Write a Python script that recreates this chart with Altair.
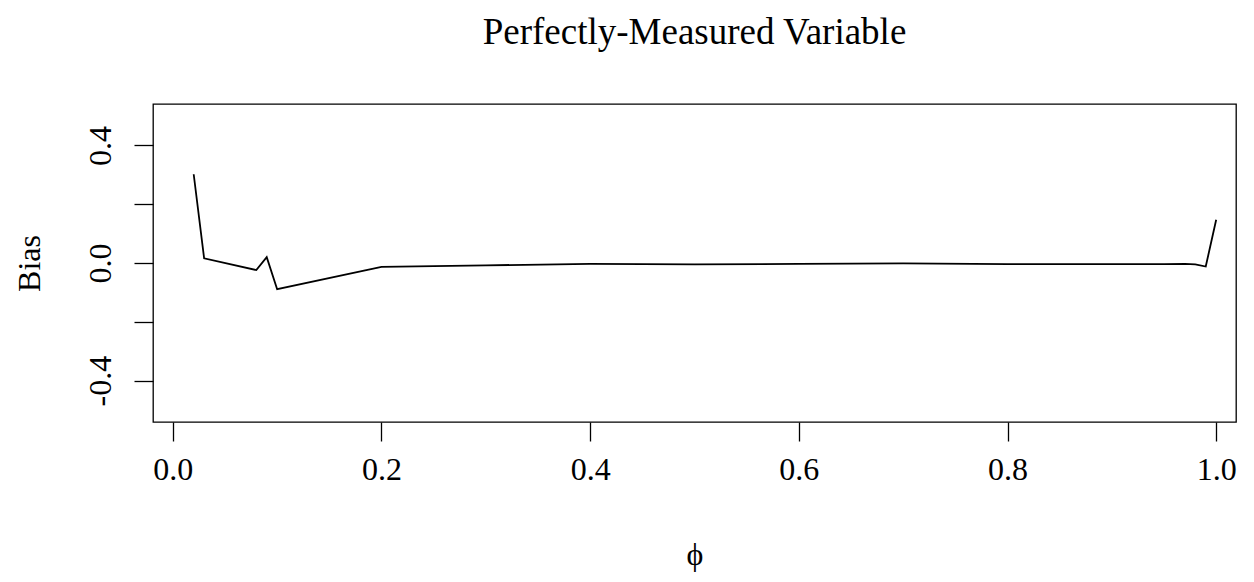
import altair as alt
import pandas as pd

phi = [0.02, 0.03, 0.08, 0.09, 0.10, 0.20, 0.30, 0.40, 0.50, 0.60, 0.70,
       0.80, 0.90, 0.95, 0.97, 0.98, 0.99, 1.00]
bias = [0.302, 0.016, -0.024, 0.020, -0.089, -0.013, -0.008, -0.003, -0.005,
        -0.003, -0.001, -0.004, -0.004, -0.004, -0.003, -0.005, -0.012, 0.147]

x_ticks = [0.0, 0.2, 0.4, 0.6, 0.8, 1.0]
y_ticks = [-0.4, -0.2, 0.0, 0.2, 0.4]

df = pd.DataFrame({"phi": phi, "bias": bias})

FONT = "Liberation Serif"

chart = alt.Chart(df).mark_line(color="black", strokeWidth=1.8, clip=True).encode(
    x=alt.X("phi:Q",
            scale=alt.Scale(domain=[-0.019, 1.019], nice=False, zero=False),
            axis=alt.Axis(values=x_ticks, format=".1f", title="\u03d5",
                          grid=False, domain=False, tickColor="black",
                          tickSize=19, tickWidth=1.3, labelFontSize=32,
                          labelFont=FONT, labelColor="black",
                          labelBaseline="alphabetic", labelPadding=38,
                          labelFlush=False, labelOverlap=False,
                          titleFont=FONT, titleFontSize=32, titleFontWeight="normal",
                          titleColor="black", titleBaseline="alphabetic",
                          titleY=142, titleX=541.5, titleAlign="center")),
    y=alt.Y("bias:Q",
            scale=alt.Scale(domain=[-0.541, 0.541], nice=False, zero=False),
            axis=alt.Axis(values=y_ticks, title="Bias",
                          labelExpr="abs(datum.value) < 0.3 && datum.value != 0 ? '' : replace(format(datum.value, '.1f'), '\u2212', '-')",
                          grid=False, domain=False, tickColor="black",
                          tickSize=19, tickWidth=1.3, labelFontSize=32,
                          labelFont=FONT, labelColor="black", labelAngle=270,
                          labelAlign="center", labelBaseline="alphabetic",
                          labelPadding=24, labelFlush=False, labelOverlap=False,
                          titleFont=FONT, titleFontSize=32, titleFontWeight="normal",
                          titleColor="black", titleAngle=270, titleBaseline="alphabetic",
                          titleAlign="center", titleX=-114, titleY=159)),
).properties(
    width=1083, height=318,
    title=alt.TitleParams("Perfectly-Measured Variable", font=FONT, fontSize=37,
                          fontWeight="normal", color="black", anchor="middle",
                          baseline="alphabetic", offset=23),
    autosize=alt.AutoSizeParams(type="none"),
    padding={"left": 145, "top": 96, "right": 10, "bottom": 152},
).configure(background="white").configure_view(stroke="black", strokeWidth=1.3)

chart.save("out.html", embed_options={"renderer": "svg", "actions": False})
